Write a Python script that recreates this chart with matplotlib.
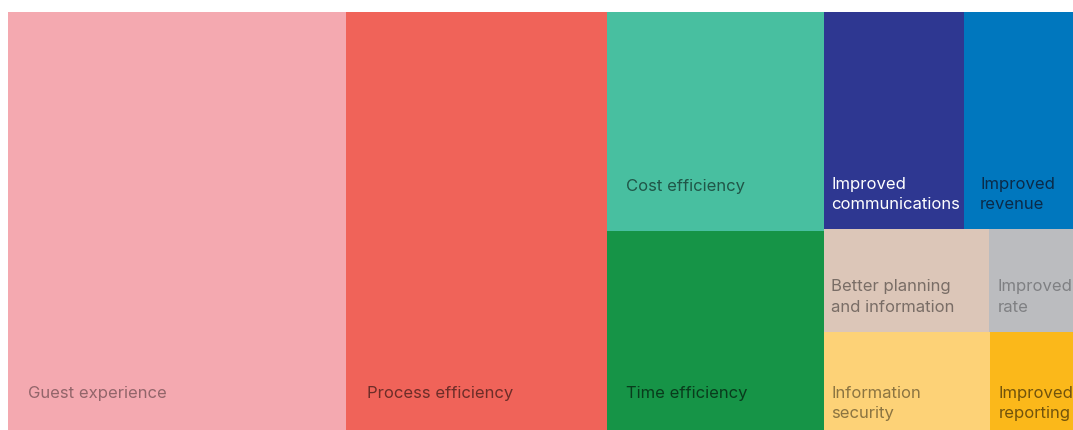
import matplotlib.pyplot as plt
from matplotlib.patches import Rectangle

labels = [
    "Guest experience",
    "Process efficiency",
    "Cost efficiency",
    "Time efficiency",
    "Improved\ncommunications",
    "Improved\nrevenue",
    "Better planning\nand information",
    "Improved\nrate",
    "Information\nsecurity",
    "Improved\nreporting",
]
values = [144.6, 111.3, 47.8, 45.2, 30.4, 30.6, 17, 12, 17.7, 12.3]

fills = ["#F4A9B0", "#F06359", "#48BFA0", "#169447", "#2E3791",
         "#0077BE", "#DCC6B8", "#BBBCBF", "#FDD277", "#FBB81A"]
text_colors = ["#92656A", "#6C2D28", "#205648", "#093B1C", "#FFFFFF",
               "#0B2A48", "#796D66", "#7F8083", "#8B7441", "#71530C"]
# left padding of each label, in pixels
label_pad = [20, 21, 19, 19, 7, 16, 7, 9, 7, 9]

# columns -> rows -> cells (indexes into labels)
layout = [[[0]], [[1]], [[2], [3]], [[4, 5], [6, 7], [8, 9]]]

fig = plt.figure(figsize=(10.73, 4.3), dpi=100)
# the treemap runs past the right and bottom edges of the picture
ax = fig.add_axes([8 / 1073, -8 / 430, 1097 / 1073, 426 / 430])
ax.set_xlim(0, 1)
ax.set_ylim(0, 1)
ax.axis("off")

total = sum(values)
x = 0.0
for col in layout:
    col_sum = sum(values[i] for row in col for i in row)
    w = col_sum / total
    y = 1.0
    for row in col:
        row_sum = sum(values[i] for i in row)
        h = row_sum / col_sum
        xx = x
        for i in row:
            cw = values[i] / row_sum * w
            ax.add_patch(Rectangle((xx, y - h), cw, h, facecolor=fills[i],
                                   edgecolor="none", clip_on=False))
            ax.annotate(labels[i], xy=(xx, y - h),
                        xytext=(label_pad[i] * 0.72, 52 * 0.72),
                        textcoords="offset points", ha="left", va="top",
                        fontsize=12.0, family=["Inter", "DejaVu Sans"],
                        color=text_colors[i], linespacing=1.45,
                        annotation_clip=False)
            xx += cw
        y -= h
    x += w

fig.savefig("out.png", dpi=100)
